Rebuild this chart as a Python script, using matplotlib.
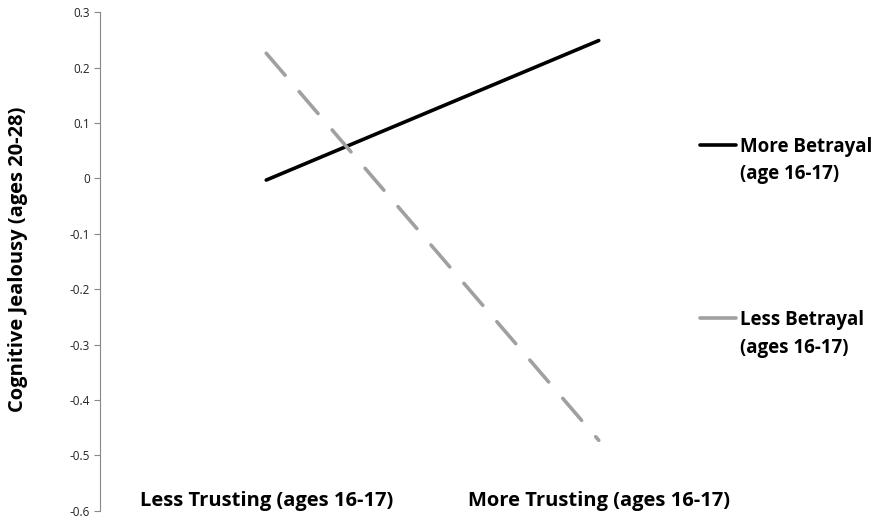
import matplotlib
matplotlib.use('Agg')
import matplotlib.pyplot as plt
import numpy as np

plt.rcParams['font.family'] = ['Open Sans', 'DejaVu Sans']

# data
categories = ['Less Trusting (ages 16-17)', 'More Trusting (ages 16-17)']
more_betrayal = [-0.003, 0.249]
less_betrayal = [0.226, -0.473]
series_labels = ['More Betrayal\n(age 16-17)', 'Less Betrayal\n(ages 16-17)']
yticks = np.round(np.arange(-0.6, 0.31, 0.1), 1)

fig = plt.figure(figsize=(8.76, 5.21), dpi=100)
ax = fig.add_axes([100 / 876, 1 - 510.6 / 521, 665 / 876, (510.6 - 12.3) / 521])

x = np.arange(len(categories))
ax.plot(x, more_betrayal, color='black', lw=2.6, solid_capstyle='round')
ax.plot(x, less_betrayal, color='#A0A0A0', lw=2.6, dash_capstyle='round',
        dashes=(8.0, 6.0))

ax.set_xlim(-0.5, 1.5)
ax.set_ylim(-0.6, 0.3)
ax.set_yticks(yticks)
ax.set_yticklabels(['0' if v == 0 else f'{v:.1f}' for v in yticks],
                   fontsize=8.5, color='#222222')
ax.tick_params(axis='y', length=4, width=0.8, color='#888888', pad=3)
ax.set_xticks([])
for s in ['top', 'right', 'bottom']:
    ax.spines[s].set_visible(False)
ax.spines['left'].set_color('#888888')
ax.spines['left'].set_linewidth(0.8)

for xi, lab in zip(x, categories):
    ax.text(xi, -0.583, lab, ha='center', va='center', fontsize=14.5,
            fontweight='bold', transform=ax.transData, clip_on=False)

fig.text(18 / 876, 1 - 259 / 521, 'Cognitive Jealousy (ages 20-28)', rotation=90,
         ha='center', va='center', fontsize=14.5, fontweight='bold')

# legend drawn beside the plot
leg_y = [145, 318]
leg_col = ['black', '#A0A0A0']
for yy, col, lab in zip(leg_y, leg_col, series_labels):
    fy = 1 - yy / 521
    fig.add_artist(plt.Line2D([700 / 876, 736 / 876], [fy, fy], color=col, lw=2.6,
                              solid_capstyle='round'))
    fig.text(740 / 876, fy + 8 / 521, lab, ha='left', va='top', fontsize=13.5,
             fontweight='bold', linespacing=1.5)

fig.savefig('out.png', dpi=100)
